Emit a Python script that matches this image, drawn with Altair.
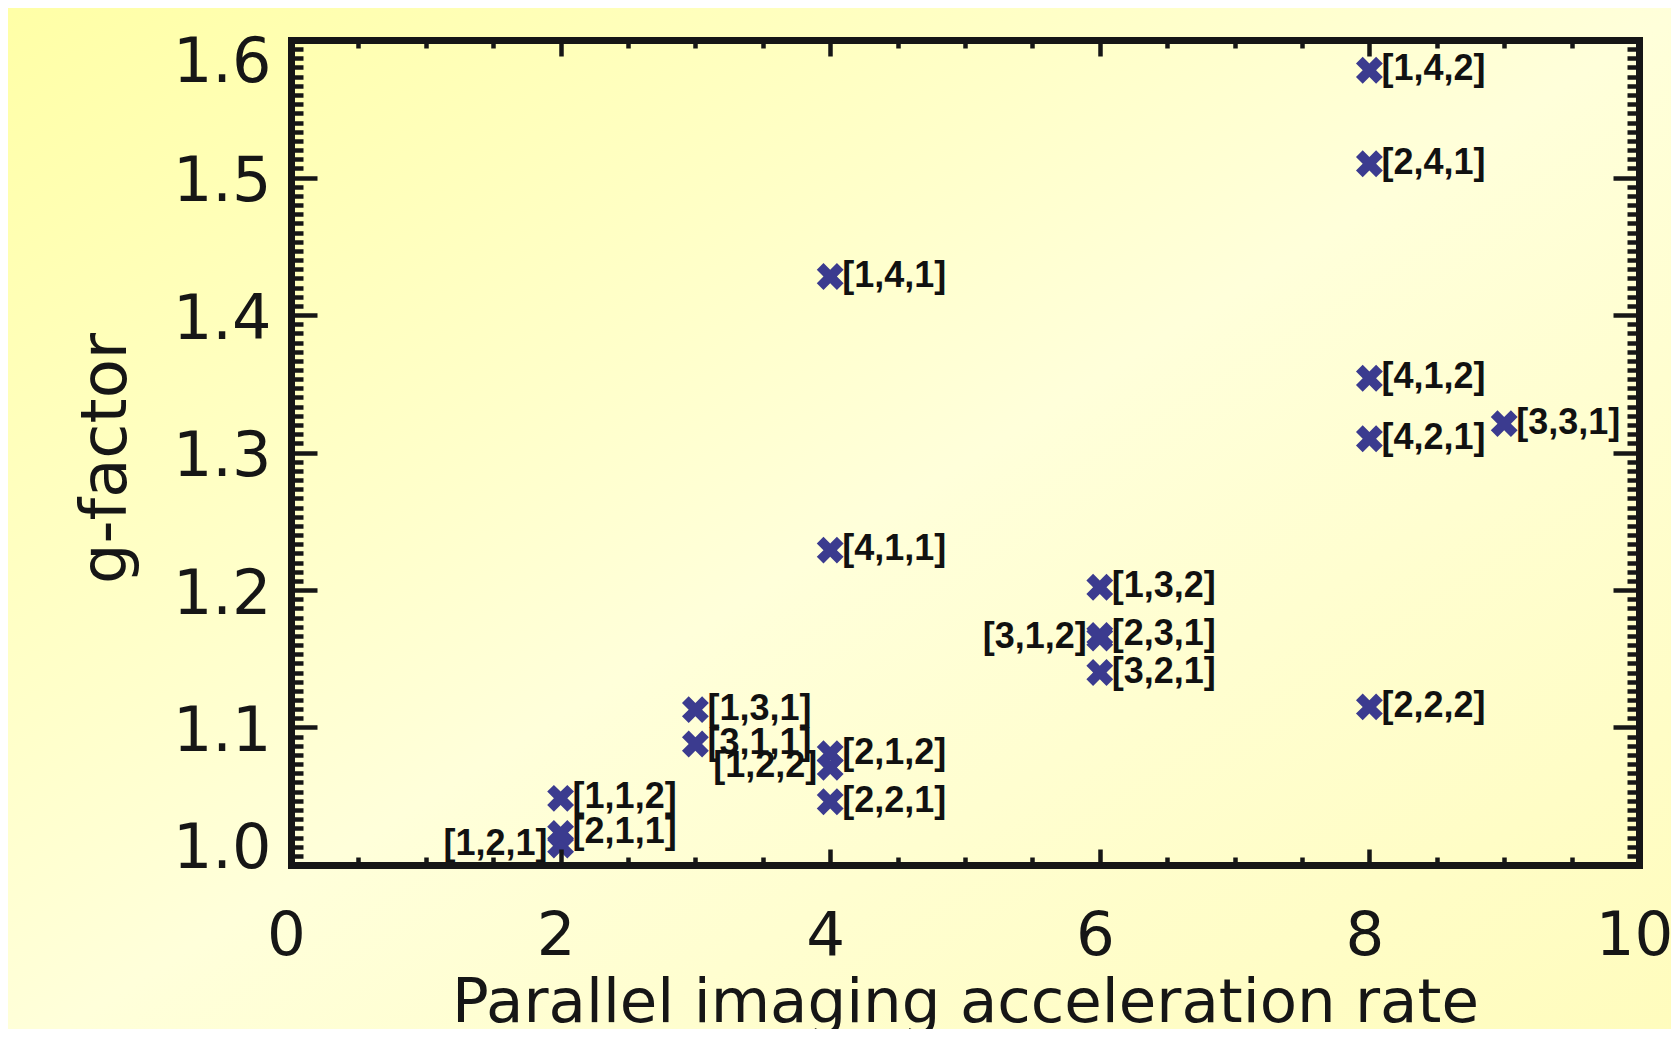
import altair as alt
import pandas as pd

# ---- data ----
rates = [2, 2, 2, 3, 3, 4, 4, 4, 4, 4, 6, 6, 6, 6, 8, 8, 8, 8, 8, 9]
gfactors = [1.0145, 1.023, 1.0485, 1.113, 1.088, 1.428, 1.229, 1.081, 1.071, 1.046,
            1.202, 1.167, 1.165, 1.140, 1.578, 1.510, 1.354, 1.310, 1.115, 1.321]
labels = ["[1,2,1]", "[2,1,1]", "[1,1,2]", "[1,3,1]", "[3,1,1]", "[1,4,1]", "[4,1,1]",
          "[2,1,2]", "[1,2,2]", "[2,2,1]", "[1,3,2]", "[2,3,1]", "[3,1,2]", "[3,2,1]",
          "[1,4,2]", "[2,4,1]", "[4,1,2]", "[4,2,1]", "[2,2,2]", "[3,3,1]"]
left_labels = ["[1,2,1]", "[1,2,2]", "[3,1,2]"]

x_major = [0, 2, 4, 6, 8, 10]
x_all = [0, 0.5, 1, 1.5, 2, 2.5, 3, 3.5, 4, 4.5, 5, 5.5, 6, 6.5, 7, 7.5, 8, 8.5, 9, 9.5, 10]
y_major = [1.0, 1.1, 1.2, 1.3, 1.4, 1.5, 1.6]
y_all = [round(1.0 + i / 150, 6) for i in range(91)]

df = pd.DataFrame({"rate": rates, "g": gfactors, "label": labels})
df["side"] = ["left" if l in left_labels else "right" for l in labels]

W, H = 1348, 825
INK = "#161616"
FONT = "DejaVu Sans"
XPATH = ("M-1,-0.5L-0.5,-1L0,-0.5L0.5,-1L1,-0.5L0.5,0L1,0.5L0.5,1"
         "L0,0.5L-0.5,1L-1,0.5L-0.5,0Z")

xscale = alt.Scale(domain=[0, 10], nice=False, zero=False)
yscale = alt.Scale(domain=[1.0, 1.6], nice=False, zero=False)

X_MAJOR_TEST = "abs(datum.value % 2) < 0.001"
Y_MAJOR_TEST = "abs(datum.value * 10 - round(datum.value * 10)) < 0.001"


def tick_axis(orient, offset, values, test, major, minor):
    return alt.Axis(orient=orient, offset=offset, values=values, labels=False,
                    title=None, grid=False, domain=True, domainColor=INK,
                    domainWidth=7, domainCap="square", ticks=True, tickColor=INK,
                    tickWidth=4.5,
                    tickSize={"condition": {"test": test, "value": major}, "value": minor},
                    zindex=1)


bg = alt.Chart(pd.DataFrame({"k": [0]})).mark_rect(
    color=alt.Gradient(
        gradient="linear", x1=0, y1=0, x2=1, y2=1,
        stops=[alt.GradientStop(color="#FFFFA6", offset=0),
               alt.GradientStop(color="#FFFFDA", offset=0.5),
               alt.GradientStop(color="#FFFCBC", offset=1)])
).encode(x=alt.value(-290), x2=alt.value(W + 60), y=alt.value(-40), y2=alt.value(H + 200))

base = alt.Chart(df)

# inward ticks on bottom and left edges (+ frame lines)
ticks_a = base.mark_point(opacity=0).encode(
    x=alt.X("rate:Q", scale=xscale,
            axis=tick_axis("top", -H, x_all, X_MAJOR_TEST, 16, 8)),
    y=alt.Y("g:Q", scale=yscale,
            axis=tick_axis("right", -W, y_all, Y_MAJOR_TEST, 26, 12)),
)
# inward ticks on top and right edges (+ frame lines)
ticks_b = base.mark_point(opacity=0).encode(
    x=alt.X("rate:Q", scale=xscale,
            axis=tick_axis("bottom", -H, x_all, X_MAJOR_TEST, 16, 8)),
    y=alt.Y("g:Q", scale=yscale,
            axis=tick_axis("left", -W, y_all, Y_MAJOR_TEST, 26, 12)),
)

points = base.mark_point(shape=XPATH, filled=True, size=720, color="#3b3b8f",
                         opacity=1, strokeWidth=0).encode(
    x=alt.X("rate:Q", scale=xscale,
            axis=alt.Axis(orient="bottom", values=x_major, format="d", ticks=False,
                          tickSize=0, domain=False, grid=False, labelFlush=False,
                          labelOverlap=False, labelFont=FONT, labelFontSize=61,
                          labelColor=INK, labelPadding=41, labelOffset=-5,
                          title="Parallel imaging acceleration rate", titleFont=FONT,
                          titleFontSize=61, titleFontWeight="normal", titleColor=INK,
                          titleY=156, titleBaseline="alphabetic", zindex=1)),
    y=alt.Y("g:Q", scale=yscale,
            axis=alt.Axis(orient="left", values=y_major, format=".1f", ticks=False,
                          tickSize=0, domain=False, grid=False, labelFlush=False,
                          labelOverlap=False, labelFont=FONT, labelFontSize=62,
                          labelColor=INK, labelPadding=20,
                          labelOffset={"condition": [
                              {"test": "datum.value > 1.59", "value": 22},
                              {"test": "datum.value < 1.01", "value": -17}],
                              "value": 4},
                          title="g-factor", titleFont=FONT, titleFontSize=64,
                          titleFontWeight="normal", titleColor=INK, titleX=-166,
                          titleY=418, titleAngle=270, titleAlign="center",
                          titleBaseline="alphabetic", zindex=1)),
)

text_r = base.transform_filter(alt.datum.side == "right").mark_text(
    align="left", baseline="middle", dx=12, dy=-1, font="Liberation Sans",
    fontWeight="bold", fontSize=36, color="#111111"
).encode(x=alt.X("rate:Q", scale=xscale, axis=None),
         y=alt.Y("g:Q", scale=yscale, axis=None), text="label:N")

text_l = base.transform_filter(alt.datum.side == "left").mark_text(
    align="right", baseline="middle", dx=-13, dy=-1, font="Liberation Sans",
    fontWeight="bold", fontSize=36, color="#111111"
).encode(x=alt.X("rate:Q", scale=xscale, axis=None),
         y=alt.Y("g:Q", scale=yscale, axis=None), text="label:N")

chart = alt.layer(bg, ticks_a, ticks_b, points, text_r, text_l).resolve_axis(
    x="independent", y="independent"
).properties(
    width=W, height=H,
    autosize=alt.AutoSizeParams(type="none"),
    padding={"left": 283, "top": 32, "right": 32, "bottom": 164},
    background="#FFFFD2",
).configure_view(stroke="transparent")

chart.save("out.html", embed_options={"renderer": "svg", "actions": False})
